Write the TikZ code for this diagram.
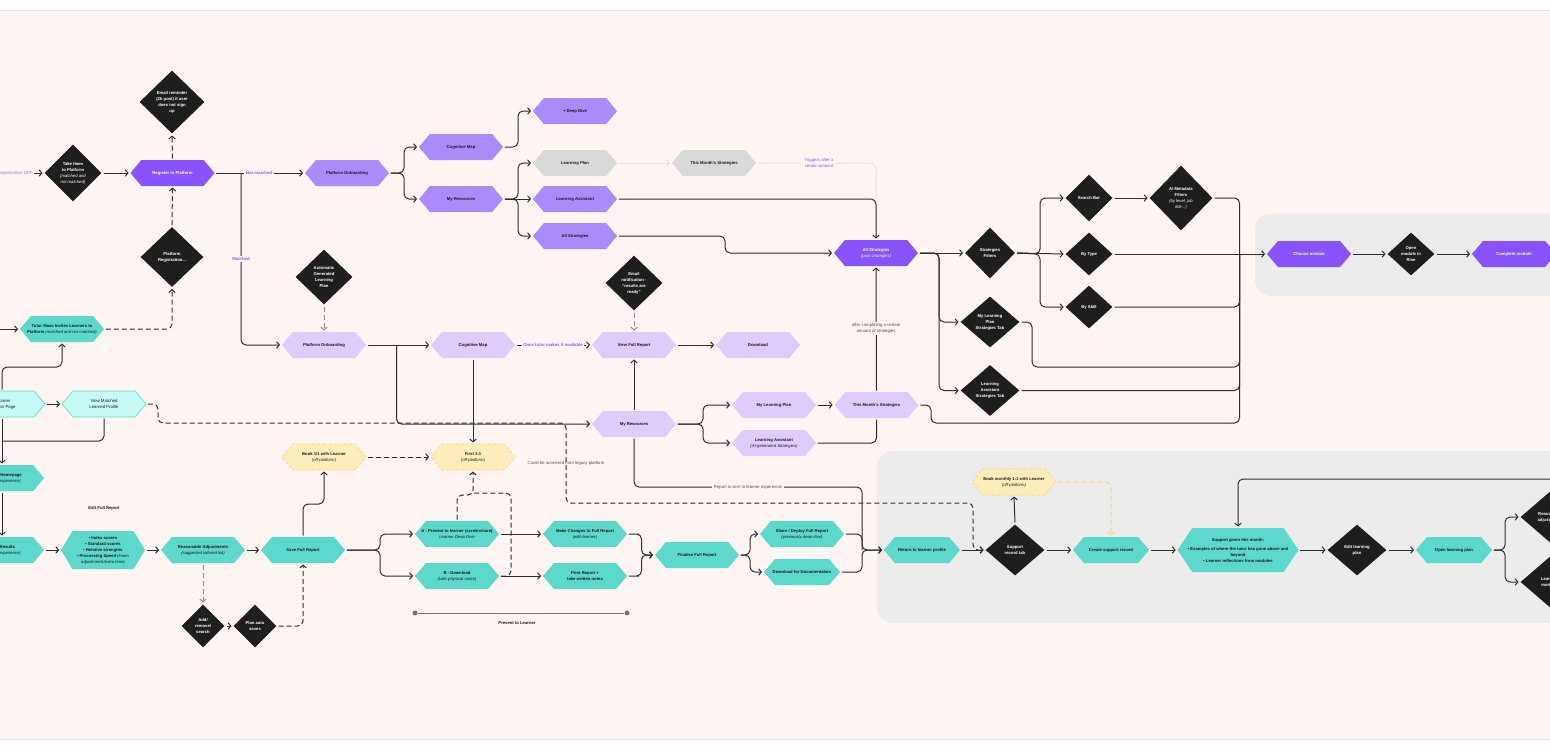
\documentclass[tikz,border=0pt]{standalone}
\usepackage{fontspec}
\setmainfont{Liberation Sans}
\usetikzlibrary{shapes.geometric, shapes.symbols, arrows.meta}

\definecolor{pagebg}{HTML}{FFF5F3}
\definecolor{pageline}{HTML}{F6E0DD}
\definecolor{bandgrey}{HTML}{ECECEC}
\definecolor{linedark}{HTML}{2E2E2E}
\definecolor{lightline}{HTML}{E4E4E4}
\definecolor{purpledark}{HTML}{8952FF}
\definecolor{purplemid}{HTML}{AB8BF9}
\definecolor{purplelight}{HTML}{DCCDFE}
\definecolor{labelpurple}{HTML}{8F55F5}
\definecolor{offpurple}{HTML}{B68FFB}
\definecolor{greyhex}{HTML}{D9D9D9}
\definecolor{tealhex}{HTML}{5CD8CC}
\definecolor{palehex}{HTML}{C6FAF4}
\definecolor{yellowhex}{HTML}{FFEDBC}
\definecolor{yellowline}{HTML}{FFD36E}
\definecolor{diablack}{HTML}{1E1E1E}

\newcommand{\subtext}[1]{{\mdseries\itshape #1}}
\newcommand{\nodefont}{\fontsize{4.2}{6}\selectfont\bfseries}
\newcommand{\notefont}{\fontsize{4.3}{6}\selectfont}

\tikzset{
	hexbase/.style={signal, signal to=west and east, signal pointer angle=100, draw=none, inner sep=-12pt, outer sep=1.5pt, minimum width=84pt, minimum height=26pt, align=center, font=\nodefont, text=black!90},
	hexdark/.style={hexbase, fill=purpledark, text=white},
	hexmid/.style={hexbase, fill=purplemid},
	hexlight/.style={hexbase, fill=purplelight},
	hexgrey/.style={hexbase, fill=greyhex},
	hexteal/.style={hexbase, fill=tealhex},
	hexpale/.style={hexbase, fill=palehex, draw=tealhex, line width=0.6pt, font=\notefont},
	hexyellow/.style={hexbase, fill=yellowhex, draw=yellowline, line width=0.7pt, dash pattern=on 3pt off 2pt},
	dia/.style 2 args={diamond, fill=diablack, text=white, inner sep=-14pt, outer sep=1.5pt, minimum width=#1pt, minimum height=#2pt, align=center, font=\nodefont},
	conn/.style={draw=linedark, line width=1pt, rounded corners=5pt, arrows={-{Straight Barb[length=2.8pt,width=6.5pt]}}},
	connplain/.style={draw=linedark, line width=1pt, rounded corners=5pt},
	dashconn/.style={conn, dash pattern=on 5pt off 3pt},
	dashplain/.style={connplain, dash pattern=on 5pt off 3pt},
	greydash/.style={dashconn, draw=linedark!55},
	faintconn/.style={conn, draw=lightline},
	notelabel/.style={font=\notefont, text=black!70, align=center, inner sep=1.5pt},
	purplelabel/.style={notelabel, font=\notefont\bfseries, text=labelpurple, fill=pagebg},
	boldlabel/.style={notelabel, font=\nodefont, text=black!90},
}

\begin{document}
\begin{tikzpicture}[x=1pt, y=-1pt]
	\useasboundingbox (0,0) rectangle (1550,750);
	\clip (0,0) rectangle (1550,750);

	%%% Page and bands
	\fill[white] (0,0) rectangle (1550,750);
	\fill[pagebg] (-5,10) rectangle (1555,739.5);
	\draw[pageline, line width=0.6pt] (-5,10) -- (1555,10);
	\draw[pageline, line width=0.6pt] (-5,739.5) -- (1555,739.5);
	\fill[bandgrey, rounded corners=16pt] (1255,213.5) rectangle (1620,296);
	\fill[bandgrey, rounded corners=16pt] (877,451) rectangle (1620,623);

	%%% Registration
	\node[dia={58}{58}] (takeThem) at (73,173) {Take them\\to Platform\\\subtext{(matched and}\\\subtext{not matched)}};
	\node[hexdark] (register) at (172.5,173) {Register to Platform};
	\node[dia={66}{64}] (reminder) at (172,102) {Email reminder\\(2h post) if user\\does not sign\\up};
	\node[dia={64}{61}] (platformReg) at (172,257) {Platform\\Registration...};
	\node[hexteal] (massInvite) at (62,329) {Tutor Mass Invites Learners to\\Platform \subtext{(matched and not matched)}};

	%%% Not matched
	\node[hexmid] (onboardMid) at (347,173) {Platform Onboarding};
	\node[hexmid] (cogMid) at (461,147) {Cognitive Map};
	\node[hexmid] (resMid) at (461,199) {My Resources};
	\node[hexmid] (deepDive) at (575,111) {+ Deep Dive};
	\node[hexgrey] (planGrey) at (575,163) {Learning Plan};
	\node[hexgrey] (monthGrey) at (714,163) {This Month's Strategies};
	\node[hexmid] (assistMid) at (575,199) {Learning Assistant};
	\node[hexmid] (allMid) at (575,236) {All Strategies};

	%%% Matched
	\node[dia={58}{56}] (autoPlan) at (324,277) {Automatic\\Generated\\Learning\\Plan};
	\node[hexlight] (onboardLight) at (324,345) {Platform Onboarding};
	\node[hexlight] (cogLight) at (473,345) {Cognitive Map};
	\node[dia={58}{56}] (emailNote) at (634,283) {Email\\notification -\\``results are\\ready''};
	\node[hexlight] (viewReport) at (634,345) {View Full Report};
	\node[hexlight] (download) at (758,345) {Download};
	\node[hexlight] (resLight) at (634,424) {My Resources};
	\node[hexlight] (planLight) at (774,405) {My Learning Plan};
	\node[hexlight] (assistLight) at (774,443) {Learning Assistant\\\subtext{(AI-generated Strategies)}};
	\node[hexlight] (monthLight) at (876.5,405) {This Month's Strategies};

	%%% Strategies
	\node[hexdark] (allDark) at (876,253) {All Strategies\\\subtext{(past strategies)}};
	\node[dia={51}{52}] (filters) at (990,253) {Strategies\\Filters};
	\node[dia={60}{52}] (planTab) at (990,322) {My Learning\\Plan\\Strategies Tab};
	\node[dia={60}{52}] (assistTab) at (990,390.5) {Learning\\Assistant\\Strategies Tab};
	\node[dia={48}{48}] (searchBar) at (1089,198) {Search Bar};
	\node[dia={64}{66}] (aiMeta) at (1181,198) {AI Metadata\\Filters\\\subtext{(by level, job}\\\subtext{title...)}};
	\node[dia={48}{44}] (byType) at (1089,254) {By Type};
	\node[dia={48}{44}] (bySkill) at (1089,307) {By Skill};
	\node[hexdark] (choose) at (1309,254) {Choose module};
	\node[dia={48}{44}] (openRise) at (1411,254) {Open\\module in\\Rise};
	\node[hexdark] (complete) at (1514,254) {Complete module};

	%%% Tutor report
	\node[hexpale] (learnerPage) at (3,404) {Learner\\Access Page};
	\node[hexpale] (viewMatched) at (104,404) {View Matched\\Learned Profile};
	\node[hexteal] (homepage) at (2,478) {Platform Homepage\\\subtext{(learner experience)}};
	\node[hexteal] (results) at (2,550) {View Results\\\subtext{(learner experience)}};
	\node[hexteal, minimum height=38pt, signal pointer angle=118] (scores) at (103,550) {\textbullet\ Index scores\\\textbullet\ Standard scores\\\textbullet\ Relative strengths\\\textbullet\ Processing Speed \subtext{(exam}\\\subtext{adjustments/extra time)}};
	\node[hexteal] (adjust) at (203,550) {Reasonable Adjustments\\\subtext{(suggested tailored list)}};
	\node[hexteal] (saveReport) at (303,550) {Save Full Report};
	\node[dia={44}{44}] (addRemove) at (203,626) {Add/\\remove/\\search};
	\node[dia={44}{44}] (autoSave) at (255,626) {Plan auto\\saves};
	\node[hexyellow] (bookOne) at (324,457) {Book 1/1 with Learner\\\subtext{(off-platform)}};
	\node[hexyellow] (firstOne) at (473,457) {First 1:1\\\subtext{(off-platform)}};
	\node[hexteal] (presentA) at (457,534) {A - Present to learner (screenshare)\\\subtext{Learner Deep Dive}};
	\node[hexteal] (presentB) at (457,576) {B - Download\\\subtext{(take physical notes)}};
	\node[hexteal] (makeChanges) at (585,534) {Make Changes to Full Report\\\subtext{(with learner)}};
	\node[hexteal] (printReport) at (585,576) {Print Report +\\take written notes};
	\node[hexteal] (finalise) at (697,555) {Finalise  Full Report};
	\node[hexteal] (share) at (802,534) {Share / Deploy Full Report\\\subtext{(previously deep dive)}};
	\node[hexteal, minimum width=76pt] (docs) at (802,572) {Download for Documentation};

	%%% Support
	\node[hexteal, minimum width=76pt] (returnProfile) at (922,550) {Return to learner profile};
	\node[dia={60}{52}] (recordTab) at (1015,550) {Support\\record tab};
	\node[hexyellow] (bookMonthly) at (1014,482) {Book monthly 1:1 with Learner\\\subtext{(off-platform)}};
	\node[hexteal, minimum width=76pt] (createRecord) at (1111,550) {Create support record};
	\node[hexteal, minimum width=121pt, minimum height=44pt, signal pointer angle=112] (supportGiven) at (1238,550) {Support given this month:\\[3pt]\textbullet\ Examples of where the tutor has gone above and\\beyond\\\textbullet\ Learner reflections from modules};
	\node[dia={60}{52}] (editPlan) at (1357,550) {Edit learning\\plan};
	\node[hexteal, minimum width=76pt] (openPlan) at (1454,550) {Open learning plan};
	\node[dia={60}{52}] (reasonAdj) at (1550,517) {Reasonable\\adjustments};
	\node[dia={60}{52}] (learnMod) at (1550,582) {Learning\\modules};

	%%% Free ends and joins
	\coordinate (offLeftA) at (-5,173);
	\coordinate (offLeftB) at (-5,329);
	\coordinate (offRightA) at (1555,479);
	\coordinate (joinNot) at (241,173);
	\coordinate (joinMid) at (404,173);
	\coordinate (joinCog) at (518,147);
	\coordinate (joinRes) at (518,199);
	\coordinate (joinOnboard) at (396.5,345);
	\coordinate (joinLight) at (703,424);
	\coordinate (joinAll) at (725,236);
	\coordinate (joinDark) at (939,253);
	\coordinate (joinFilter) at (1040,254);
	\coordinate (joinModule) at (1239.5,254);
	\coordinate (joinLeft) at (2,441);
	\coordinate (joinSave) at (380,550);
	\coordinate (joinMake) at (641.5,555);
	\coordinate (joinFinal) at (750,555);
	\coordinate (joinShare) at (862,550);
	\coordinate (joinOpen) at (1505,550);

	%%% Registration lines
	\draw[conn] (offLeftA) -- (takeThem.west);
	\draw[conn] (takeThem.east) -- (register.west);
	\draw[dashconn] (register.north) -- (reminder.south);
	\draw[dashconn] (platformReg.north) -- (register.south);
	\draw[dashconn] (massInvite.east) -| (platformReg.south);
	\draw[conn] (offLeftB) -- (massInvite.west);
	\draw[conn] (learnerPage.north -| joinLeft) |- (62,367) -- (massInvite.south);
	\draw[conn] (register.east) -- (onboardMid.west);
	\draw[conn] (joinNot) |- (onboardLight.west);

	%%% Not matched lines
	\draw[conn] (onboardMid.east) -- (joinMid) |- (cogMid.west);
	\draw[conn] (onboardMid.east) -- (joinMid) |- (resMid.west);
	\draw[conn] (cogMid.east) -- (joinCog) |- (deepDive.west);
	\draw[conn] (resMid.east) -- (joinRes) |- (planGrey.west);
	\draw[conn] (resMid.east) -- (assistMid.west);
	\draw[conn] (resMid.east) -- (joinRes) |- (allMid.west);
	\draw[faintconn] (planGrey.east) -- (monthGrey.west);
	\draw[faintconn] (monthGrey.east) -| (allDark.north);
	\draw[conn] (assistMid.east) -| (allDark.north);
	\draw[conn] (allMid.east) -- (joinAll) |- (allDark.west);

	%%% Matched lines
	\draw[greydash] (autoPlan.south) -- (onboardLight.north);
	\draw[conn] (onboardLight.east) -- (cogLight.west);
	\draw[conn] (joinOnboard) |- (resLight.west);
	\draw[dashconn] (cogLight.east) -- (viewReport.west);
	\draw[conn] (cogLight.south) -- (firstOne.north);
	\draw[greydash] (emailNote.south) -- (viewReport.north);
	\draw[conn] (viewReport.east) -- (download.west);
	\draw[conn] (resLight.north) -- (viewReport.south);
	\draw[conn] (resLight.east) -- (joinLight) |- (planLight.west);
	\draw[conn] (resLight.east) -- (joinLight) |- (assistLight.west);
	\draw[conn] (planLight.east) -- (monthLight.west);
	\draw[connplain] (assistLight.east) -| (monthLight.south);
	\draw[conn] (monthLight.north) -- (allDark.south);

	%%% Strategies lines
	\draw[conn] (allDark.east) -- (filters.west);
	\draw[conn] (allDark.east) -- (joinDark) |- (planTab.west);
	\draw[conn] (allDark.east) -- (joinDark) |- (assistTab.west);
	\draw[conn] (filters.east) -- (joinFilter) |- (searchBar.west);
	\draw[conn] (filters.east) -- (byType.west);
	\draw[conn] (filters.east) -- (joinFilter) |- (bySkill.west);
	\draw[conn] (searchBar.east) -- (aiMeta.west);
	\draw[conn] (byType.east) -- (choose.west);
	\draw[connplain] (aiMeta.east) -| (joinModule);
	\draw[connplain] (bySkill.east) -| (joinModule);
	\draw[connplain] (planTab.east) -- (1032,322) |- (1239.5,367) -- (joinModule);
	\draw[connplain] (assistTab.east) -| (joinModule);
	\draw[connplain] (monthLight.east) -- (931,405) |- (1239.5,423) -- (joinModule);
	\draw[conn] (choose.east) -- (openRise.west);
	\draw[conn] (openRise.east) -- (complete.west);

	%%% Tutor report lines
	\draw[conn] (learnerPage.east) -- (viewMatched.west);
	\draw[conn] (learnerPage.south -| joinLeft) -- (homepage.north -| joinLeft);
	\draw[connplain] (viewMatched.south) |- (joinLeft);
	\draw[conn] (homepage.south) -- (results.north);
	\draw[conn] (results.east) -- (scores.west);
	\draw[conn] (scores.east) -- (adjust.west);
	\draw[conn] (adjust.east) -- (saveReport.west);
	\draw[greydash] (adjust.south) -- (addRemove.north);
	\draw[dashconn] (addRemove.east) -- (autoSave.west);
	\draw[dashconn] (autoSave.east) -| (saveReport.south);
	\draw[conn] (saveReport.north) |- (324,504) -- (bookOne.south);
	\draw[dashconn] (bookOne.east) -- (firstOne.west);
	\draw[dashconn] (viewMatched.east) -- (158,404) |- (566,423) |- (973,503) |- (recordTab.west);
	\draw[conn] (saveReport.east) -- (joinSave) |- (presentA.west);
	\draw[conn] (saveReport.east) -- (joinSave) |- (presentB.west);
	\draw[dashconn] (presentA.north) |- (473,495) -- (firstOne.south);
	\draw[dashplain] (presentB.east) -- (511,576) |- (473,493);
	\draw[conn] (presentA.east) -- (makeChanges.west);
	\draw[conn] (presentB.east) -- (printReport.west);
	\draw[conn] (makeChanges.east) -- (634,534) -- (joinMake |- makeChanges.east) |- (finalise.west);
	\draw[conn] (printReport.east) -- (634,576) -- (joinMake |- printReport.east) |- (finalise.west);
	\draw[conn] (finalise.east) -- (joinFinal) |- (share.west);
	\draw[conn] (finalise.east) -- (joinFinal) |- (docs.west);
	\draw[conn] (share.east) -- (joinShare |- share.east) |- (returnProfile.west);
	\draw[conn] (docs.east) -- (joinShare |- docs.east) |- (returnProfile.west);
	\draw[connplain] (resLight.south) |- (862,487) -- (joinShare);

	%%% Support lines
	\draw[conn] (returnProfile.east) -- (recordTab.west);
	\draw[conn] (recordTab.north) -- (bookMonthly.south);
	\draw[dashconn, draw=yellowline] (bookMonthly.east) -| (createRecord.north);
	\draw[conn] (recordTab.east) -- (createRecord.west);
	\draw[conn] (createRecord.east) -- (supportGiven.west);
	\draw[conn] (supportGiven.east) -- (editPlan.west);
	\draw[conn] (editPlan.east) -- (openPlan.west);
	\draw[conn] (offRightA) -| (supportGiven.north);
	\draw[conn] (openPlan.east) -- (joinOpen) |- (reasonAdj.west);
	\draw[conn] (openPlan.east) -- (joinOpen) |- (learnMod.west);

	%%% Labels
	\node[purplelabel, text=offpurple] (offLabel) at (15,173) {Registration OFF};
	\node[purplelabel] (notLabel) at (259,173) {Not matched};
	\node[purplelabel] (matchLabel) at (241,259) {Matched};
	\node[purplelabel, font=\notefont] (trigLabel) at (819,163) {Triggers after a\\certain amount};
	\node[purplelabel] (tutorLabel) at (553,345) {Once tutor makes it available};
	\node[notelabel, fill=pagebg] (afterLabel) at (876,328) {after completing a certain\\amount of strategies};
	\node[notelabel] (legacyLabel) at (566,463) {Could be accessed from legacy platform};
	\node[notelabel, fill=pagebg] (reportLabel) at (748,487) {Report is sent to learner experience};
	\node[boldlabel] (editLabel) at (104,508) {Edit Full Report};

	%%% Present to learner span
	\node[circle, fill=black!55, inner sep=0pt, minimum size=5pt] (spanA) at (415,613) {};
	\node[circle, fill=black!55, inner sep=0pt, minimum size=5pt] (spanB) at (627,613) {};
	\draw[black!55, line width=1pt] (spanA) -- (spanB);
	\node[boldlabel] (presentLabel) at (517,623) {Present to Learner};
\end{tikzpicture}
\end{document}
